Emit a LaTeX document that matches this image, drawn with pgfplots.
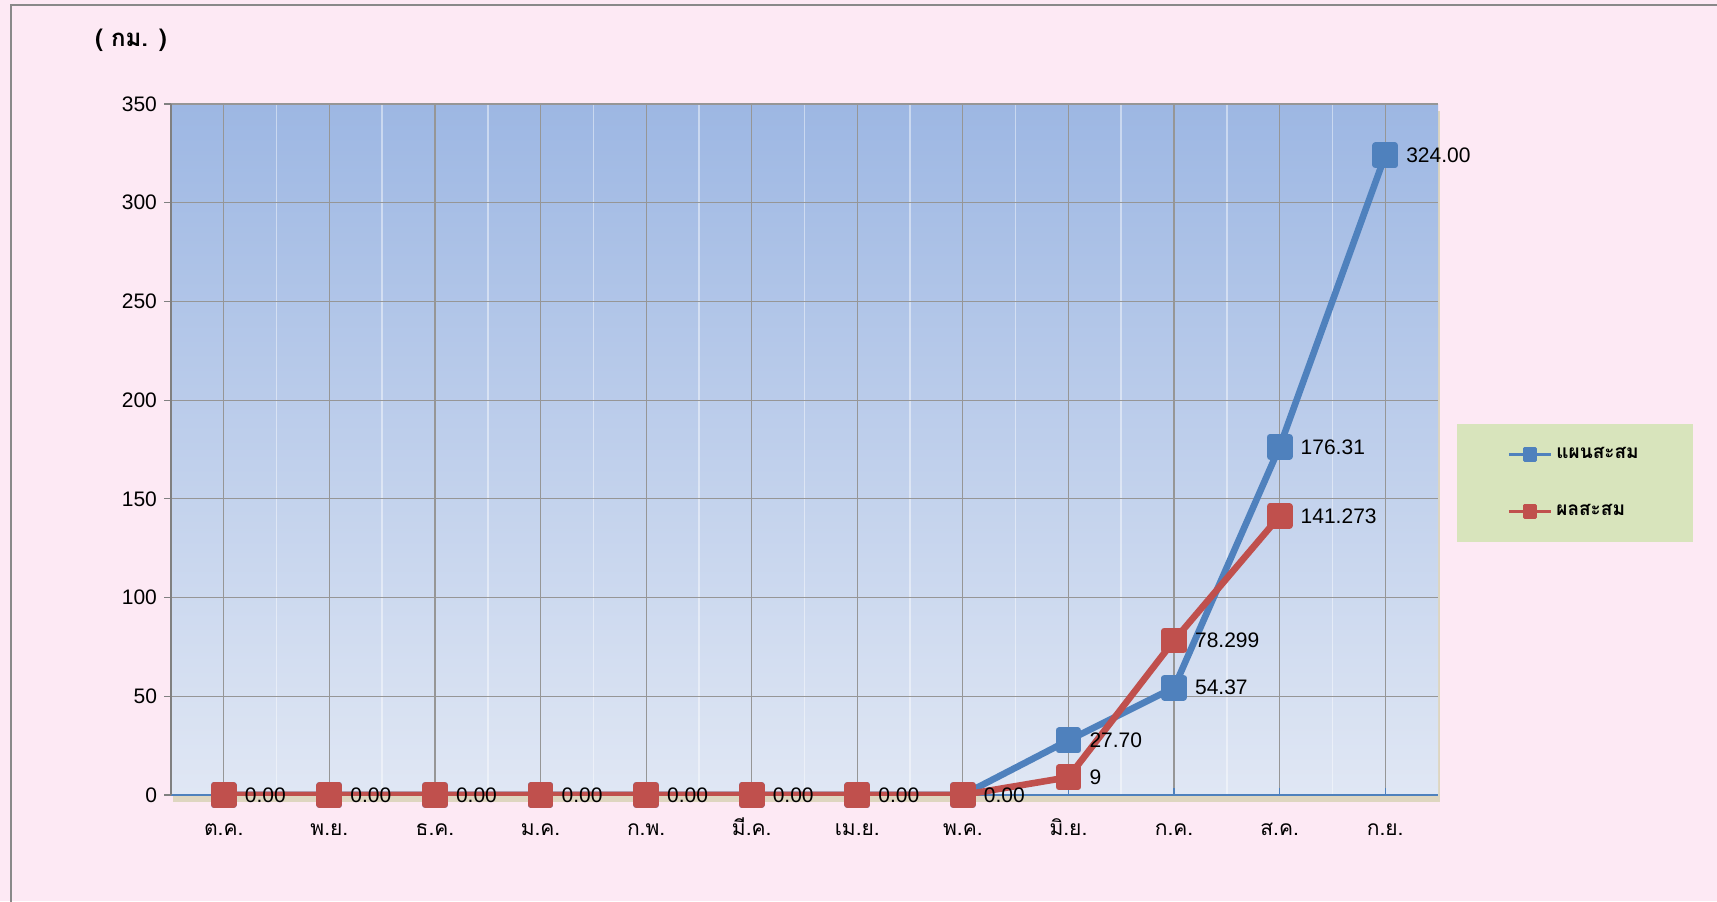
\documentclass[border=0pt]{standalone}
\usepackage{fontspec}
\setmainfont{Liberation Sans}
\newfontfamily\thaifont[Script=Thai]{Loma}
\usepackage{pgfplots}
\pgfplotsset{compat=1.18}
\usetikzlibrary{shadows}
\definecolor{bgpink}{RGB}{253,233,244}
\definecolor{legendgreen}{RGB}{216,228,188}
\definecolor{plottop}{RGB}{157,183,227}
\definecolor{plotbot}{RGB}{224,231,244}
\definecolor{blueline}{RGB}{79,129,189}
\definecolor{redline}{RGB}{192,80,77}
\definecolor{gridgray}{RGB}{150,150,150}
\definecolor{shadowtan}{RGB}{222,214,192}
\definecolor{framegray}{RGB}{137,137,137}
\begin{document}
\begin{tikzpicture}
\fill[bgpink] (0pt,0pt) rectangle (858.5pt,450.5pt);
\useasboundingbox (0pt,0pt) rectangle (858.5pt,450.5pt);
\draw[framegray, line width=1.1pt] (5.5pt,-2pt) -- (5.5pt,448pt) -- (860pt,448pt);
\node[font=\thaifont\bfseries\fontsize{12}{14}\selectfont] at (65.5pt,430.5pt) {( กม. )};
\begin{axis}[
  at={(85.5pt,53pt)}, anchor=south west,
  width=633.5pt, height=345.5pt, scale only axis,
  xmin=-0.5, xmax=11.5, ymin=0, ymax=350,
  axis lines=left, axis line style={-},
  x axis line style={color=blueline, line width=1.2pt},
  y axis line style={color=gray, line width=0.8pt},
  xtick={0,...,11},
  xticklabels={ต.ค.,พ.ย.,ธ.ค.,ม.ค.,ก.พ.,มี.ค.,เม.ย.,พ.ค.,มิ.ย.,ก.ค.,ส.ค.,ก.ย.},
  minor xtick={0.5,1.5,...,10.5},
  ytick={0,50,...,350},
  xmajorgrids, ymajorgrids, xminorgrids,
  major grid style={color=gridgray, line width=0.6pt},
  minor grid style={color=white, opacity=0.45, line width=0.8pt},
  xtick align=inside, ytick align=outside,
  major tick length=3.5pt, minor tick length=0pt,
  xtick style={color=blueline, line width=0.6pt},
  ytick style={color=gray, line width=0.6pt},
  /pgf/number format/assume math mode=true,
  yticklabel style={font=\fontsize{10.5}{12}\selectfont, text=black},
  xticklabel style={font=\thaifont\fontsize{10.5}{12}\selectfont, text=black, anchor=base, yshift=-20pt},
  axis background/.style={top color=plottop, bottom color=plotbot,
    drop shadow={shadow xshift=0.8pt, shadow yshift=-3.5pt, fill=shadowtan, opacity=1}},
  legend style={at={(1.015,0.537)}, anchor=north west, fill=legendgreen, draw=none,
    inner xsep=25pt, inner ysep=9.5pt, row sep=17.5pt,
    font=\thaifont\bfseries\fontsize{9.5}{11}\selectfont, cells={anchor=west}},
  legend image code/.code={\draw[#1, line width=1.5pt, mark size=2.9pt, mark repeat=2, mark phase=2] plot coordinates {(0pt,0pt) (10.5pt,0pt) (21pt,0pt)};},
  every node near coord/.append style={anchor=west, xshift=7pt, text=black, font=\fontsize{10.5}{12}\selectfont},
]
\addplot[color=blueline, line width=3.3pt, line join=round, mark=square*, mark size=4.8pt, mark options={solid}]
  coordinates {(0,0) (1,0) (2,0) (3,0) (4,0) (5,0) (6,0) (7,0) (8,27.70) (9,54.37) (10,176.31) (11,324.00)};
\addlegendentry{แผนสะสม}
\addplot[color=redline, line width=3.3pt, line join=round, mark=square*, mark size=4.8pt, mark options={solid}]
  coordinates {(0,0) (1,0) (2,0) (3,0) (4,0) (5,0) (6,0) (7,0) (8,9) (9,78.299) (10,141.273)};
\addlegendentry{ผลสะสม}
\addplot[forget plot, draw=none, mark=none, nodes near coords, point meta=explicit symbolic]
  coordinates {(8,27.70) [27.70] (9,54.37) [54.37] (10,176.31) [176.31] (11,324.00) [324.00]};
\addplot[forget plot, draw=none, mark=none, nodes near coords, point meta=explicit symbolic]
  coordinates {(0,0) [0.00] (1,0) [0.00] (2,0) [0.00] (3,0) [0.00] (4,0) [0.00] (5,0) [0.00] (6,0) [0.00] (7,0) [0.00] (8,9) [9] (9,78.299) [78.299] (10,141.273) [141.273]};
\end{axis}
\end{tikzpicture}
\end{document}
